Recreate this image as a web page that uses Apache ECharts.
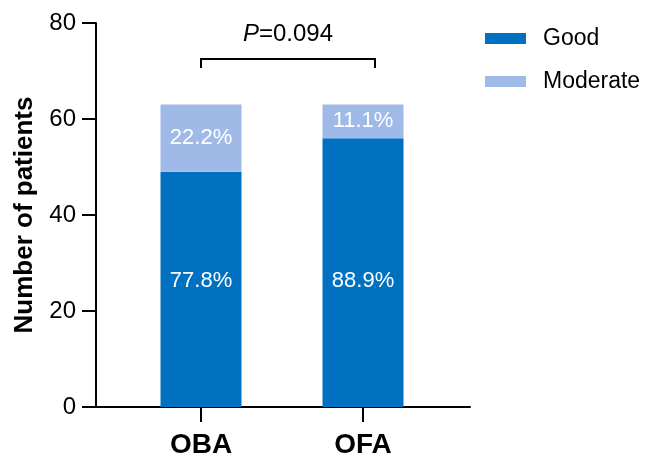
<!DOCTYPE html>
<html>
<head>
<meta charset="utf-8">
<script src="https://cdn.jsdelivr.net/npm/echarts@6/dist/echarts.min.js"></script>
<style>html,body{margin:0;padding:0;background:#fff;}#c{width:645px;height:455px;}</style>
</head>
<body>
<div id="c"></div>
<script>
var categories = ['OBA', 'OFA'];
var goodValues = [49, 56];
var moderateValues = [14, 7];
var goodLabels = ['77.8%', '88.9%'];
var moderateLabels = ['22.2%', '11.1%'];
var seriesNames = ['Good', 'Moderate'];
var yTicks = [0, 20, 40, 60, 80];
var pValueText = '0.094';
var bracketTop = 72.5, bracketBottom = 70.6;

var FONT = 'Liberation Sans, Arial, sans-serif';
var chart = echarts.init(document.getElementById('c'), null, {renderer: 'canvas'});
var option = {
  animation: false,
  backgroundColor: '#fff',
  textStyle: {fontFamily: FONT},
  legend: {
    orient: 'vertical', left: 480, top: 22,
    itemWidth: 41, itemHeight: 11, itemGap: 20,
    icon: 'rect',
    textStyle: {fontSize: 23, color: '#000', fontFamily: FONT, padding: [0,0,0,12]},
    data: seriesNames
  },
  grid: [
    {left: 96, top: 23, width: 374, height: 384, outerBoundsMode: 'none', containLabel: false},
    {left: 120, top: 23, width: 324, height: 384, outerBoundsMode: 'none', containLabel: false}
  ],
  xAxis: [
    {gridIndex: 0, type: 'category', data: [''], axisLine: {lineStyle: {color: '#000', width: 2}},
     axisTick: {show: false}, axisLabel: {show: false}},
    {gridIndex: 1, type: 'category', data: categories, axisLine: {show: false},
     axisTick: {show: true, length: 15, alignWithLabel: true, lineStyle: {color: '#000', width: 2}},
     axisLabel: {fontSize: 28, fontWeight: 'bold', color: '#000', margin: 24, fontFamily: FONT}}
  ],
  yAxis: [
    {gridIndex: 0, type: 'value', min: yTicks[0], max: yTicks[yTicks.length-1], interval: 20,
     name: 'Number of patients', nameLocation: 'middle', nameGap: 58,
     nameTextStyle: {fontSize: 26, fontWeight: 'bold', color: '#000', fontFamily: FONT},
     axisLine: {show: true, lineStyle: {color: '#000', width: 2}},
     axisTick: {show: true, length: 14, lineStyle: {color: '#000', width: 2}},
     axisLabel: {fontSize: 24, color: '#000', margin: 20, fontFamily: FONT},
     splitLine: {show: false}},
    {gridIndex: 1, type: 'value', min: yTicks[0], max: yTicks[yTicks.length-1], interval: 20, show: false, splitLine: {show: false}}
  ],
  series: [
    {name: seriesNames[0], type: 'bar', xAxisIndex: 1, yAxisIndex: 1, stack: 's', barWidth: '50%',
     itemStyle: {color: '#0070C0'},
     label: {show: true, position: 'insideBottom', distance: 115, color: '#fff', fontSize: 22, fontFamily: FONT,
       formatter: function(p){ return goodLabels[p.dataIndex]; }},
     data: goodValues},
    {name: seriesNames[1], type: 'bar', xAxisIndex: 1, yAxisIndex: 1, stack: 's', barWidth: '50%',
     itemStyle: {color: '#A0BAE8'},
     label: {show: true, position: 'inside', color: '#fff', fontSize: 22, fontFamily: FONT,
       formatter: function(p){ return moderateLabels[p.dataIndex]; }},
     data: moderateValues}
  ]
};
chart.setOption(option);

var f = {xAxisIndex: 1, yAxisIndex: 1};
var pL = chart.convertToPixel(f, [categories[0], bracketTop]);
var pR = chart.convertToPixel(f, [categories[1], bracketTop]);
var pB = chart.convertToPixel(f, [categories[0], bracketBottom]);
var xl = pL[0], xr = pR[0] + 12, yt = pL[1], yb = pB[1];
chart.setOption({
  graphic: [
    {type: 'polyline', shape: {points: [[xl, yb], [xl, yt], [xr, yt], [xr, yb]]},
     style: {stroke: '#000', lineWidth: 2, fill: null}},
    {type: 'text', x: (xl + xr) / 2, y: yt - 25,
     style: {text: '{i|P}{n|=' + pValueText + '}', align: 'center', verticalAlign: 'middle',
       rich: {i: {fontStyle: 'italic', fontSize: 24, fontFamily: FONT, fill: '#000'},
              n: {fontSize: 24, fontFamily: FONT, fill: '#000'}}}}
  ]
});
</script>
</body>
</html>
